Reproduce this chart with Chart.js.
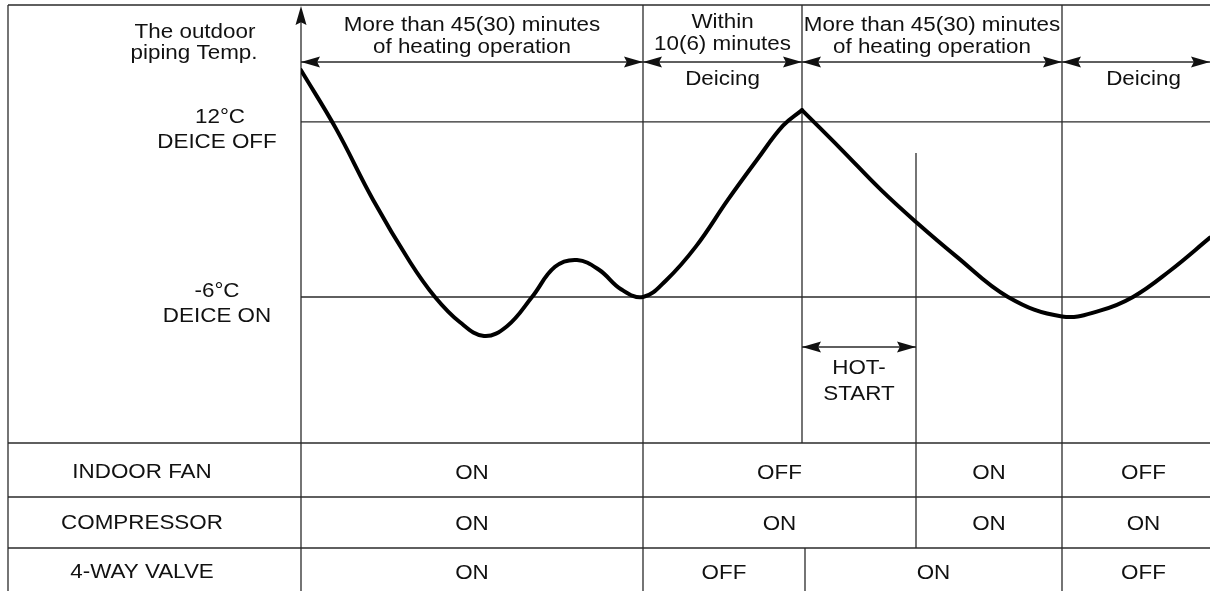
<!DOCTYPE html>
<html>
<head>
<meta charset="utf-8">
<script src="https://cdn.jsdelivr.net/npm/chart.js@4.4.1/dist/chart.umd.min.js"></script>
<style>
  html, body { margin: 0; padding: 0; background: #fff; overflow: hidden; }
  #wrap { width: 1210px; height: 591px; }
</style>
</head>
<body>
<div id="wrap"><canvas id="deice" width="1210" height="591"></canvas></div>
<script>
// time axis in arbitrary units (not to scale), temperature in °C
let phaseEdges = [0, 34.2, 50.1, 76.1, 90.9];
let frameEnd = 92.4;
let phaseTitles = [['More than 45(30) minutes', 'of heating operation'], ['Within', '10(6) minutes'], ['More than 45(30) minutes', 'of heating operation'], []];
let phaseNames = ['', 'Deicing', '', 'Deicing'];

let deiceOff = 12;
let deiceOn = -6;

// heating + first deicing, up to the 12°C peak
let timeA = [0, 3.5, 7.2, 10.9, 13.4, 15.9, 18.3, 20.6, 23.1, 25.4, 27.6, 29.8, 32.0, 34.2, 36.5, 39.5, 42.7, 45.6, 48.2, 50.1];
let tempA = [17.3, 11.3, 4.0, -2.4, -6.0, -8.6, -10.0, -9.0, -6.0, -2.9, -2.2, -3.2, -5.2, -6.0, -4.3, -0.8, 4.0, 8.1, 11.6, 13.2];
// heating again after the peak
let timeB = [50.1, 54.0, 58.0, 61.5, 65.5, 70.7, 76.1, 79.9, 83.2, 86.9, 90.9];
let tempB = [13.2, 9.2, 5.0, 1.7, -1.8, -6.0, -8.0, -7.4, -6.0, -3.3, 0.1];

let hotStart = [50.1, 61.5];
let hotStartTop = 8.8;

let rowLabels = ['INDOOR FAN', 'COMPRESSOR', '4-WAY VALVE'];
let rowEdges = [[34.2, 61.5, 76.1], [34.2, 61.5, 76.1], [34.2, 50.4, 76.1]];
let rowStates = [['ON', 'OFF', 'ON', 'OFF'], ['ON', 'ON', 'ON', 'ON'], ['ON', 'OFF', 'ON', 'OFF']];

const FONT = '20px "Liberation Sans", Arial, sans-serif';
const frameLeft = 8, frameTop = 5, graphBottom = 443;
const rowTops = [443, 497, 548, 600];

function txt(ctx, s, x, y) {
    ctx.save();
    ctx.translate(x, y);
    ctx.scale(1.12, 1);
    ctx.fillText(s, 0, 0);
    ctx.restore();
}

function line(ctx, x1, y1, x2, y2) {
    ctx.beginPath();
    ctx.moveTo(x1, y1);
    ctx.lineTo(x2, y2);
    ctx.stroke();
}

function head(ctx, tipX, tipY, dx, dy) {
    // filled arrowhead pointing along (dx, dy)
    let len = 19, hw = 5.5;
    ctx.beginPath();
    ctx.moveTo(tipX, tipY);
    ctx.lineTo(tipX - dx * len - dy * hw, tipY - dy * len + dx * hw);
    ctx.lineTo(tipX - dx * len * 0.85, tipY - dy * len * 0.85);
    ctx.lineTo(tipX - dx * len + dy * hw, tipY - dy * len - dx * hw);
    ctx.closePath();
    ctx.fill();
}

function dimArrow(ctx, x1, x2, y) {
    line(ctx, x1, y, x2, y);
    head(ctx, x1, y, -1, 0);
    head(ctx, x2, y, 1, 0);
}

const diagram = {
    id: 'diagram',
    beforeDatasetsDraw(chart) {
        let ctx = chart.ctx;
        let xs = chart.scales.x, ys = chart.scales.y;
        let W = chart.width, H = chart.height;
        let px = v => xs.getPixelForValue(v);
        let py = v => ys.getPixelForValue(v);
        let x0 = px(0);

        ctx.save();
        ctx.strokeStyle = '#2a2a2a';
        ctx.fillStyle = '#111';
        ctx.lineWidth = 1.3;

        // frame
        line(ctx, frameLeft, frameTop, W, frameTop);
        line(ctx, frameLeft, frameTop, frameLeft, H);

        // temperature axis with arrow
        line(ctx, x0, H, x0, frameTop + 8);
        head(ctx, x0, frameTop + 1, 0, -1);

        // DEICE OFF / ON levels
        line(ctx, x0, py(deiceOff), W, py(deiceOff));
        line(ctx, x0, py(deiceOn), W, py(deiceOn));

        // phase dividers in the graph
        for (let i = 1; i < phaseEdges.length - 1; i++) {
            line(ctx, px(phaseEdges[i]), frameTop, px(phaseEdges[i]), graphBottom);
        }
        line(ctx, px(hotStart[1]), py(hotStartTop), px(hotStart[1]), graphBottom);

        // phase dimension arrows and titles
        ctx.font = FONT;
        ctx.textAlign = 'center';
        ctx.textBaseline = 'middle';
        let arrowY = 62;
        for (let i = 0; i < phaseEdges.length - 1; i++) {
            dimArrow(ctx, px(phaseEdges[i]), px(phaseEdges[i + 1]), arrowY);
            let right = i === phaseEdges.length - 2 ? frameEnd : phaseEdges[i + 1];
            let cx = (px(phaseEdges[i]) + px(right)) / 2;
            let t = phaseTitles[i];
            if (t.length === 2) {
                let top = i === 1 ? 22 : 25;
                txt(ctx, t[0], cx, top);
                txt(ctx, t[1], cx, top + 22);
            }
            if (phaseNames[i]) txt(ctx, phaseNames[i], cx, arrowY + 17);
        }

        // axis title and level labels
        txt(ctx, 'The outdoor', 195, 32);
        txt(ctx, 'piping Temp.', 194, 53);
        txt(ctx, deiceOff + '\u00B0C', 220, py(deiceOff) - 4);
        txt(ctx, 'DEICE OFF', 217, py(deiceOff) + 21);
        txt(ctx, deiceOn + '\u00B0C', 217, py(deiceOn) - 6);
        txt(ctx, 'DEICE ON', 217, py(deiceOn) + 19);

        // hot-start
        let hy = 347;
        dimArrow(ctx, px(hotStart[0]), px(hotStart[1]), hy);
        let hx = (px(hotStart[0]) + px(hotStart[1])) / 2;
        txt(ctx, 'HOT-', hx, hy + 21);
        txt(ctx, 'START', hx, hy + 47);

        // status table
        for (let r = 0; r < rowLabels.length; r++) {
            let top = rowTops[r], bot = rowTops[r + 1];
            line(ctx, frameLeft, top, W, top);
            let cy = r === 2 ? top + 24 : top + 29;
            if (r === 1) cy = top + 26;
            txt(ctx, rowLabels[r], 142, cy);
            let edges = [0].concat(rowEdges[r], [frameEnd]);
            for (let c = 1; c < edges.length - 1; c++) {
                line(ctx, px(edges[c]), top, px(edges[c]), bot);
            }
            for (let c = 0; c < rowStates[r].length; c++) {
                txt(ctx, rowStates[r][c], (px(edges[c]) + px(edges[c + 1])) / 2, cy + 1);
            }
        }
        ctx.restore();
    }
};

let ctx = document.getElementById('deice').getContext('2d');

let curve = new Chart(ctx, {
    type: 'line',
    data: {
        datasets: [{
            data: timeA.map((t, i) => ({ x: t, y: tempA[i] })),
        }, {
            data: timeB.map((t, i) => ({ x: t, y: tempB[i] })),
        }]
    },
    options: {
        responsive: false,
        animation: false,
        devicePixelRatio: 1,
        layout: {
            padding: { left: 301, top: 5, right: 0, bottom: 148 }
        },
        elements: {
            line: { borderColor: '#000', borderWidth: 4, tension: 0.4, borderCapStyle: 'round', borderJoinStyle: 'round' },
            point: { radius: 0 }
        },
        scales: {
            x: { type: 'linear', min: 0, max: 90.9, display: false },
            y: { type: 'linear', min: -21, max: 24, display: false }
        },
        plugins: {
            legend: { display: false },
            tooltip: { enabled: false }
        }
    },
    plugins: [diagram]
});
</script>
</body>
</html>
